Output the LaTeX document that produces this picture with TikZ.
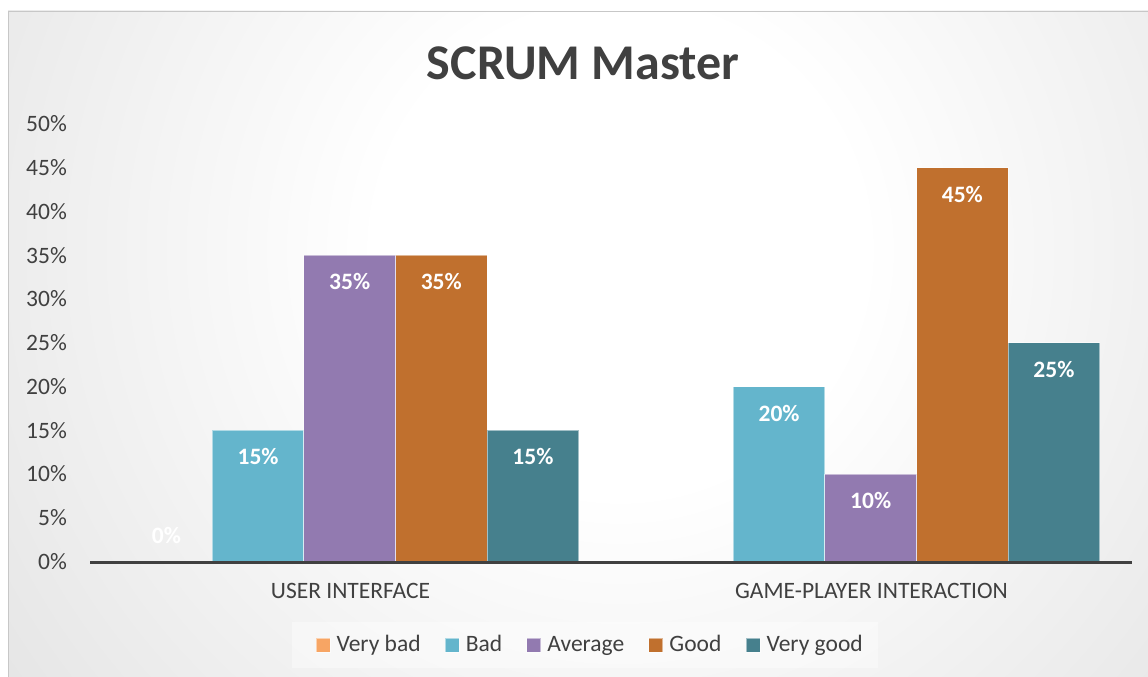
\documentclass[tikz,border=0pt]{standalone}
\usepackage{fontspec}
\setmainfont{Carlito}
\usepackage{tikz}
\usetikzlibrary{positioning}

\definecolor{verybad}{RGB}{247,165,100}
\definecolor{bad}{RGB}{100,181,204}
\definecolor{average}{RGB}{146,122,176}
\definecolor{good}{RGB}{192,112,46}
\definecolor{verygood}{RGB}{70,128,141}
\definecolor{textgray}{RGB}{64,64,64}
\pgfdeclareradialshading{bgglow}{\pgfpoint{0bp}{0bp}}{color(0bp)=(white); color(8bp)=(white); color(45bp)=(black!22); color(50bp)=(black!24)}

\tikzset{
  bar/.style={draw=white, draw opacity=0.5, line width=1pt},
  barlabel/.style={text=white, font=\fontsize{23.5}{28}\selectfont\bfseries},
  ticklabel/.style={anchor=east, inner sep=0pt, text=textgray, font=\fontsize{23.5}{28}\selectfont},
  catlabel/.style={text=textgray, font=\fontsize{23.5}{28}\selectfont},
  legendkey/.style={minimum size=14pt, inner sep=0pt, draw=white, draw opacity=0.5, line width=0.8pt},
  legendtext/.style={anchor=west, inner sep=0pt, text height=17pt, text depth=5pt, text=textgray, font=\fontsize{23.5}{28}\selectfont}
}

\begin{document}
\begin{tikzpicture}[x=1pt, y=-1pt]
  \useasboundingbox (0,0) rectangle (1148,677);
  \fill[white] (0,0) rectangle (1148,677);
  % chart background
  \begin{scope}
    \clip (8,11) rectangle (1148,677);
    \shade[shading=bgglow] (-140,-510) rectangle (1380,1010);
  \end{scope}
  \draw[black!22, line width=0.8pt] (8,677) -- (8,11) -- (1148,11);

  \node[text=textgray, font=\fontsize{50}{58}\selectfont\bfseries] (title) at (583,63) {SCRUM Master};

  % value axis
  \foreach \k [evaluate=\k as \p using int(5*\k)] in {0,...,10}
    \node[ticklabel] (tick\p) at (67, 561.5-43.75*\k) {\p\%};

  % bars
  \foreach \v/\c [count=\i from 0] in {0/verybad, 15/bad, 35/average, 35/good, 15/verygood} {
    \ifdim \v pt>0pt
      \filldraw[bar, fill=\c] (120.7+91.6*\i, 561.5) rectangle (212.3+91.6*\i, 561.5-8.75*\v);
    \fi
    \pgfmathsetmacro\ly{\v>0 ? 588-8.75*\v : 535}
    \node[barlabel] (ui\i) at (166.5+91.6*\i, \ly) {\v\%};
  }
  \foreach \v/\c [count=\i from 0] in {0/verybad, 20/bad, 10/average, 45/good, 25/verygood} {
    \ifdim \v pt>0pt
      \filldraw[bar, fill=\c] (641.7+91.6*\i, 561.5) rectangle (733.3+91.6*\i, 561.5-8.75*\v);
      \node[barlabel] (gp\i) at (687.5+91.6*\i, 588-8.75*\v) {\v\%};
    \fi
  }

  % category axis
  \coordinate (axisL) at (90,562);
  \coordinate (axisR) at (1132,562);
  \draw[textgray, line width=3pt] (axisL) -- (axisR);
  \node[catlabel] (cat1) at (350.5,591) {USER INTERFACE};
  \node[catlabel] (cat2) at (871.5,591) {GAME-PLAYER INTERACTION};

  % legend
  \fill[white, opacity=0.4] (291.7,622) rectangle (878,667.7);
  \node[legendkey, fill=verybad] (kvb) at (323,645) {};
  \node[legendtext, right=6pt of kvb] (lvb) {Very bad};
  \node[legendkey, fill=bad, right=24pt of lvb] (kb) {};
  \node[legendtext, right=6pt of kb] (lb) {Bad};
  \node[legendkey, fill=average, right=24pt of lb] (ka) {};
  \node[legendtext, right=6pt of ka] (la) {Average};
  \node[legendkey, fill=good, right=24pt of la] (kg) {};
  \node[legendtext, right=6pt of kg] (lg) {Good};
  \node[legendkey, fill=verygood, right=24pt of lg] (kvg) {};
  \node[legendtext, right=6pt of kvg] (lvg) {Very good};
\end{tikzpicture}
\end{document}
